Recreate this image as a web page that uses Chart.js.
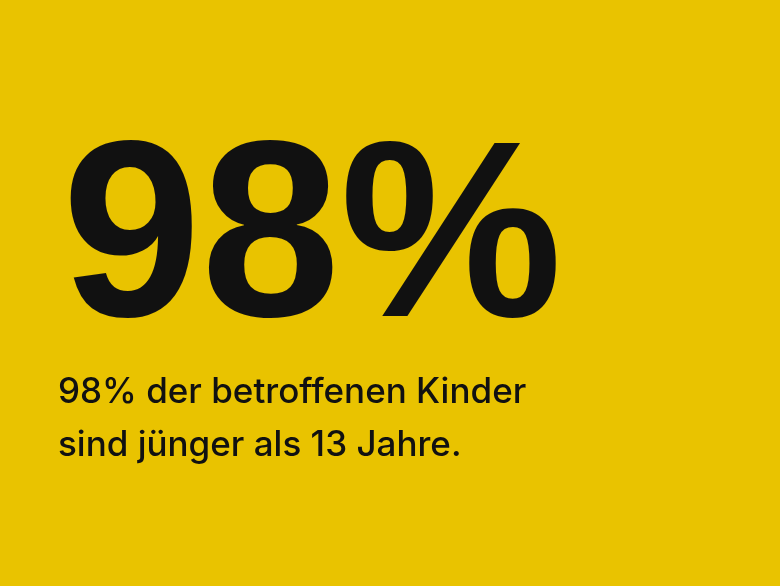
<!DOCTYPE html>
<html><head><meta charset="utf-8">
<script src="https://cdn.jsdelivr.net/npm/chart.js@4"></script>
<style>html,body{margin:0;padding:0;background:#E9C300;}#wrap{width:780px;height:586px;}</style>
</head><body><div id="wrap"><canvas id="c"></canvas></div>
<script>
const categories = ['Betroffene Kinder unter 13 Jahren'];
const values = [98];
const bigLabel = '98%';
const captionLines = ['98% der betroffenen Kinder', 'sind jünger als 13 Jahre.'];

const textPlugin = {
  id: 'textPlugin',
  beforeDraw(chart) {
    const ctx = chart.ctx;
    ctx.save();
    ctx.fillStyle = '#E9C300';
    ctx.fillRect(0, 0, chart.width, chart.height);
    ctx.restore();
  },
  afterDraw(chart) {
    const ctx = chart.ctx;
    ctx.save();
    ctx.fillStyle = '#111111';
    ctx.textBaseline = 'alphabetic';
    ctx.textAlign = 'left';
    ctx.font = '900 250px "Liberation Sans", Arial, sans-serif';
    ctx.fillText(bigLabel, 62, 316);
    ctx.font = '500 35px "Inter", "Liberation Sans", sans-serif';
    ctx.fillText(captionLines[0], 58, 403);
    ctx.fillText(captionLines[1], 58, 456);
    ctx.restore();
  }
};

new Chart(document.getElementById('c'), {
  type: 'bar',
  data: { labels: categories, datasets: [{ data: values, backgroundColor: 'rgba(0,0,0,0)' }] },
  options: {
    responsive: true, maintainAspectRatio: false, animation: false,
    plugins: { legend: { display: false }, tooltip: { enabled: false } },
    scales: { x: { display: false }, y: { display: false, min: 0, max: 100 } }
  },
  plugins: [textPlugin]
});
</script></body></html>
